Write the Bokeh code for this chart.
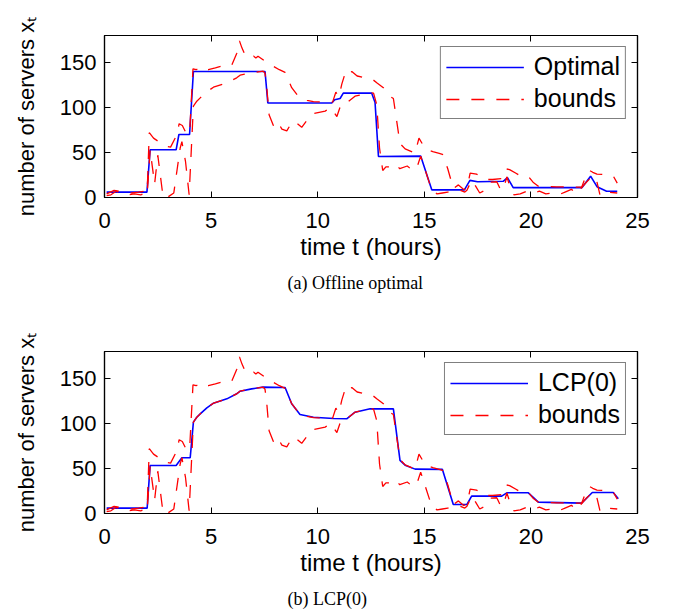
from bokeh.plotting import figure
from bokeh.layouts import column
from bokeh.models import Range1d, LinearAxis, FixedTicker, Legend, LegendItem, Title
from bokeh.embed import file_html
from bokeh.resources import INLINE

# ---------------- data ----------------
t_upper = [0.1, 0.45, 0.7, 1.0, 1.3, 1.6, 1.85, 2.0, 2.1, 2.3, 2.85, 3.1, 3.4, 3.5, 3.65, 3.86,
           4.0, 4.15, 4.3, 4.45, 4.6, 4.87, 5.2, 5.5, 5.75, 5.97, 6.2, 6.33, 6.45, 6.6, 6.83,
           7.0, 7.1, 7.2, 7.5, 7.9, 8.2, 8.47, 8.78, 9.17, 9.5, 9.8, 10.3, 10.7, 10.85, 11.0,
           11.13, 11.3, 11.45, 11.6, 11.85, 12.2, 12.53, 12.8, 13.08, 13.35, 13.55, 13.86,
           14.1, 14.57, 14.75, 15.05, 15.4, 15.7, 15.85, 16.1, 16.36, 16.6, 16.85, 17.0,
           17.15, 17.45, 17.7, 17.9, 18.2, 18.6, 18.8, 19.0, 19.3, 19.5, 19.88, 20.1, 20.35,
           20.7, 21.2, 21.6, 22.0, 22.38, 22.6, 22.75, 22.9, 23.1, 23.4, 23.86, 24.05]
upper = [4, 8, 7, 6, 5, 6, 7, 6, 72, 66, 57, 56, 70, 82, 80, 70,
         75, 143, 142, 144, 141, 142, 144, 146, 148, 147, 160, 174, 166, 158, 155,
         157, 155, 157, 152, 146, 142, 139, 122, 110, 108, 106.5, 106, 106, 117, 112,
         126, 139, 136, 140, 135, 133, 132, 127, 122, 113, 110, 60,
         54, 49.3, 66, 54, 51, 49, 48, 32, 10, 14, 9, 10,
         27, 26, 22, 20, 20, 21, 32, 31, 27, 24, 23.5, 17, 12.6,
         12.2, 11.9, 11.7, 11.5, 11.5, 25, 30, 28, 26, 25.5, 24, 16]

t_lower = [0.1, 0.3, 0.55, 0.8, 1.1, 1.4, 1.7, 1.9, 2.0, 2.14, 2.35, 2.5, 2.75, 3.0, 3.25,
           3.55, 3.63, 3.8, 3.97, 4.17, 4.33, 4.49, 4.8, 5.11, 5.74, 6.2, 6.36, 6.9, 7.44,
           7.53, 7.62, 7.72, 7.92, 8.1, 8.32, 8.55, 8.75, 8.9, 9.25, 9.5, 9.72, 10.35, 10.6,
           10.9, 11.1, 11.36, 11.75, 12.46, 12.62, 12.77, 12.9, 13.05, 13.2, 13.5, 13.65,
           13.85, 14.2, 14.45, 14.65, 14.83, 15.35, 15.6, 15.85, 16.1, 16.4, 16.7, 16.9,
           17.0, 17.22, 17.4, 17.6, 17.85, 18.1, 18.4, 18.55, 18.7, 18.87, 19.05, 19.2,
           19.5, 19.8, 20.1, 20.4, 20.7, 21.0, 21.3, 21.6, 21.9, 22.2, 22.38, 22.6, 22.88,
           23.05, 23.25, 23.55, 24.05]
lower = [2, 3, 7, 4, 3, 4, 3, 5, 3, 53, 15, 47, 0, 1, 5,
         55, 62, 40, 3, 101.5, 107, 110.7, 117.4, 122.6, 127.4, 133, 135.9, 138.5, 140.4,
         138, 120, 92, 80, 85, 76, 74, 82, 85, 78, 86, 93, 96, 100,
         90, 104, 105.2, 112.6, 116.3, 116, 103, 55, 30, 34, 34, 37,
         32, 35, 30, 33, 46, 8, 4, 5, 6, 7, 8, 6,
         8, 19.3, 13, 5, 8, 17, 17.5, 10, 8, 23, 10, 3,
         4, 7, 5, 7, 4, 5, 3, 6, 9, 4, 11, 17, 23.4,
         22, 2, 6, 5]

t_opt = [0.1, 1.99, 2.14, 3.36, 3.49, 3.99, 4.17, 7.53, 7.66, 10.66, 10.8, 11.05, 11.2, 12.53,
         12.69, 12.85, 14.83, 15.35, 16.88, 17.14, 17.5, 18.7, 18.9, 19.17, 22.4, 22.8, 23.1,
         23.55, 24.05]
opt = [6, 6, 53, 53, 70, 70, 140, 140, 105, 105, 108.6, 110, 116, 116,
       105.6, 45.6, 46, 8.5, 8.5, 19, 17.5, 18, 22, 11, 11, 23.7, 12,
       7, 7]

t_lcp = [0.1, 2.0, 2.14, 3.36, 3.63, 4.02, 4.17, 4.33, 4.49, 4.8, 5.11, 5.74, 6.2, 6.36, 6.9,
         7.44, 8.47, 8.78, 9.17, 9.8, 10.74, 11.36, 11.75, 12.46, 13.55, 13.86, 14.1, 14.57,
         15.85, 16.36, 17.0, 17.22, 18.63, 18.87, 19.88, 20.35, 22.38, 22.88, 23.86, 24.1]
lcp = [6, 6, 53.3, 53.3, 61.9, 61.9, 101.5, 107, 110.7, 117.4, 122.6, 127.4, 133, 135.9, 138.5,
       140.4, 140, 122, 110, 107, 105.5, 105.2, 112.6, 116.3, 116.3, 59, 53.7, 49.3,
       49, 10, 10, 19.3, 19.3, 23, 23, 12.6, 11.5, 23.4, 23.4, 16.3]

x_ticks = [0, 5, 10, 15, 20, 25]
y_ticks = [0, 50, 100, 150]

SANS = "Liberation Sans"
SERIF = "Liberation Serif"


def style_axis(ax, ticks, show_labels=True, label_size="22px"):
    ax.ticker = FixedTicker(ticks=ticks)
    ax.major_tick_in = 6
    ax.major_tick_out = 0
    ax.minor_tick_line_color = None
    ax.major_tick_line_color = "black"
    ax.axis_line_color = "black"
    ax.axis_line_width = 1.2
    ax.major_label_text_font = SANS
    ax.major_label_text_font_size = label_size
    ax.major_label_text_color = "black"
    if not show_labels:
        ax.major_label_overrides = {v: "" for v in ticks}
        ax.major_label_standoff = 0


def make_fig(line_label, line_t, line_v, caption, top_border, bottom_border):
    p = figure(frame_width=533, frame_height=162,
               x_range=Range1d(0, 25), y_range=Range1d(0, 180),
               output_backend="svg", toolbar_location=None,
               min_border_left=104, min_border_right=31,
               min_border_top=top_border, min_border_bottom=bottom_border,
               x_axis_label="time t (hours)", y_axis_label="number of servers x\u209c")
    p.grid.visible = False
    p.outline_line_color = "black"
    p.outline_line_width = 1.2
    p.background_fill_color = "white"
    p.border_fill_color = "white"

    style_axis(p.xaxis[0], x_ticks)
    style_axis(p.yaxis[0], y_ticks)
    p.xaxis[0].major_label_standoff = 15
    p.yaxis[0].major_label_standoff = 8
    for ax in (p.xaxis[0], p.yaxis[0]):
        ax.axis_label_text_font = SANS
        ax.axis_label_text_font_style = "normal"
        ax.axis_label_text_color = "black"
    p.xaxis[0].axis_label_text_font_size = "24px"
    p.yaxis[0].axis_label_text_font_size = "22px"
    p.xaxis[0].axis_label_standoff = 2
    p.yaxis[0].axis_label_standoff = 18

    top_ax = LinearAxis()
    right_ax = LinearAxis()
    style_axis(top_ax, x_ticks, show_labels=False)
    style_axis(right_ax, y_ticks, show_labels=False)
    p.add_layout(top_ax, "above")
    p.add_layout(right_ax, "right")

    main = p.line(line_t, line_v, line_color="#0000ff", line_width=1.6)
    ub = p.line(t_upper, upper, line_color="#ff0000", line_width=1.3, line_dash="13 12")
    lb = p.line(t_lower, lower, line_color="#ff0000", line_width=1.3, line_dash="13 12")

    legend = Legend(items=[LegendItem(label=line_label, renderers=[main]),
                           LegendItem(label="bounds", renderers=[ub])],
                    location="top_right", margin=11, padding=5, spacing=3,
                    glyph_width=78, glyph_height=24, label_height=24, label_standoff=10,
                    border_line_color="black", border_line_width=1.3,
                    background_fill_color="white", background_fill_alpha=1.0,
                    label_text_font=SANS, label_text_font_size="25px",
                    label_text_color="black")
    p.add_layout(legend)

    cap = Title(text=caption, align="left", offset=183, standoff=17,
                text_font=SERIF, text_font_size="18px", text_font_style="normal",
                text_color="black")
    p.add_layout(cap, "below")
    return p


p1 = make_fig("Optimal", t_opt, opt, "(a)  Offline optimal", 35, 112)
p2 = make_fig("LCP(0)", t_lcp, lcp, "(b)  LCP(0)", 42, 103)

layout = column(p1, p2, spacing=0)
open("out.html", "w").write(file_html(layout, INLINE))
